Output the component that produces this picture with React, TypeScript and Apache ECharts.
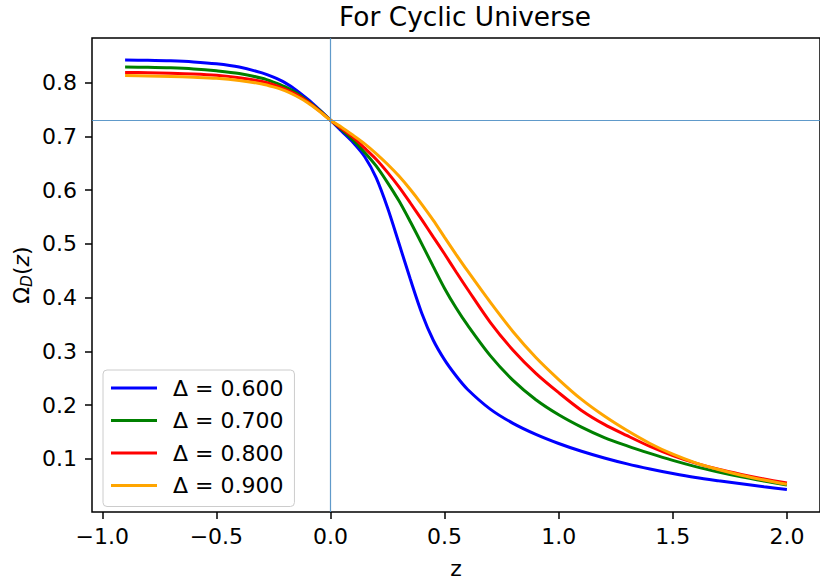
import React, { useEffect, useRef } from "react";
import * as echarts from "echarts";

const zValues = [-0.9, -0.8, -0.7, -0.6, -0.5, -0.4, -0.3, -0.25, -0.2, -0.15, -0.1, -0.05, 0, 0.05, 0.1, 0.15, 0.2, 0.25, 0.3, 0.35, 0.4, 0.45, 0.5, 0.55, 0.6, 0.7, 0.8, 0.9, 1.0, 1.1, 1.2, 1.3, 1.4, 1.5, 1.6, 1.7, 1.8, 1.9, 2.0];

const omegaD06 = [0.842, 0.8415, 0.8405, 0.8385, 0.835, 0.829, 0.818, 0.810, 0.800, 0.786, 0.769, 0.750, 0.730, 0.709, 0.688, 0.662, 0.623, 0.567, 0.501, 0.434, 0.371, 0.321, 0.284, 0.2545, 0.2295, 0.1925, 0.166, 0.1455, 0.1285, 0.114, 0.1015, 0.0905, 0.081, 0.0725, 0.065, 0.059, 0.0535, 0.048, 0.043];
const omegaD07 = [0.829, 0.8285, 0.8275, 0.8255, 0.822, 0.817, 0.808, 0.801, 0.7925, 0.781, 0.7655, 0.749, 0.730, 0.712, 0.6925, 0.670, 0.645, 0.614, 0.580, 0.541, 0.500, 0.458, 0.417, 0.381, 0.349, 0.292, 0.246, 0.210, 0.182, 0.159, 0.1395, 0.124, 0.110, 0.097, 0.0855, 0.0755, 0.0665, 0.0585, 0.051];
const omegaD08 = [0.819, 0.8185, 0.8175, 0.816, 0.8135, 0.809, 0.802, 0.796, 0.788, 0.778, 0.7645, 0.748, 0.730, 0.714, 0.6975, 0.678, 0.6575, 0.633, 0.606, 0.576, 0.545, 0.513, 0.481, 0.448, 0.416, 0.354, 0.302, 0.259, 0.223, 0.190, 0.164, 0.143, 0.123, 0.106, 0.092, 0.0805, 0.071, 0.0625, 0.055];
const omegaD09 = [0.813, 0.8125, 0.8115, 0.810, 0.808, 0.804, 0.7975, 0.792, 0.785, 0.775, 0.7625, 0.747, 0.730, 0.7165, 0.7015, 0.686, 0.668, 0.648, 0.626, 0.601, 0.5735, 0.544, 0.512, 0.4805, 0.450, 0.3915, 0.3365, 0.2885, 0.2475, 0.2105, 0.1795, 0.1525, 0.1285, 0.1085, 0.0925, 0.080, 0.0695, 0.0605, 0.0525];

const seriesNames = ["Δ = 0.600", "Δ = 0.700", "Δ = 0.800", "Δ = 0.900"];
const seriesColors = ["#0000ff", "#008000", "#ff0000", "#ffa500"];
const seriesValues = [omegaD06, omegaD07, omegaD08, omegaD09];

const xTicks = [-1.0, -0.5, 0.0, 0.5, 1.0, 1.5, 2.0];
const yTicks = [0.1, 0.2, 0.3, 0.4, 0.5, 0.6, 0.7, 0.8];

const refY = 0.73;
const refX = 0;

const FONT = "DejaVu Sans";

function fmt(v: number): string {
  const s = Math.abs(v).toFixed(1);
  return v < -1e-9 ? "\u2212" + s : s;
}

export default function App() {
  const ref = useRef<HTMLDivElement>(null);
  useEffect(() => {
    if (!ref.current) return;
    const chart = echarts.init(ref.current, null, { renderer: "svg" });
    const lineSeries = seriesValues.map((vals, i) => ({
      name: seriesNames[i],
      type: "line",
      data: zValues.map((z, j) => [z, vals[j]]),
      showSymbol: false,
      symbol: "none",
      smooth: 0.3,
      z: 3,
      lineStyle: { color: seriesColors[i], width: 3 },
      itemStyle: { color: seriesColors[i] },
    }));
    const option: any = {
      animation: false,
      backgroundColor: "#ffffff",
      title: {
        text: "For Cyclic Universe",
        left: 460,
        textAlign: "center",
        top: -2,
        textStyle: { fontFamily: FONT, fontSize: 26.4, fontWeight: "normal", color: "#000" },
      },
      grid: {
        left: 92,
        top: 38,
        width: 735,
        height: 478,
        show: true,
        borderColor: "#000",
        borderWidth: 1.5,
        backgroundColor: "transparent",
      },
      legend: {
        data: seriesNames.map((n) => ({ name: n, icon: "rect" })),
        orient: "vertical",
        left: 103,
        top: 370,
        padding: [7, 11, 10, 8],
        itemGap: 10.5,
        itemWidth: 46,
        itemHeight: 3,
        backgroundColor: "rgba(255,255,255,0.8)",
        borderColor: "#cccccc",
        borderWidth: 1,
        borderRadius: 4,
        textStyle: {
          fontFamily: FONT,
          fontSize: 22,
          color: "#000",
          lineHeight: 22,
          padding: [0, 0, 0, 11],
        },
      },
      xAxis: {
        type: "value",
        min: -1.045,
        max: 2.145,
        name: "z",
        nameLocation: "middle",
        nameGap: 45,
        nameMoveOverlap: false,
        nameTextStyle: { fontFamily: FONT, fontSize: 22, color: "#000" },
        axisLine: { show: false, onZero: false },
        splitLine: { show: false },
        axisTick: {
          show: true,
          customValues: xTicks,
          length: 7,
          lineStyle: { color: "#000", width: 1.5 },
        },
        axisLabel: {
          customValues: xTicks,
          formatter: (v: number) => fmt(v),
          margin: 13,
          fontFamily: FONT,
          fontSize: 22,
          color: "#000",
        },
      },
      yAxis: {
        type: "value",
        min: 0.001,
        max: 0.883,
        name: "{a|Ω}{s|D}{a|(}{i|z}{a|)}",
        nameLocation: "middle",
        nameGap: 58,
        nameMoveOverlap: false,
        nameTextStyle: {
          fontFamily: FONT,
          fontSize: 22,
          color: "#000",
          rich: {
            a: { fontFamily: FONT, fontSize: 22, color: "#000", lineHeight: 26 },
            i: { fontFamily: FONT, fontSize: 22, fontStyle: "italic", color: "#000", lineHeight: 26 },
            s: { fontFamily: FONT, fontSize: 15.4, fontStyle: "italic", color: "#000", lineHeight: 16, verticalAlign: "bottom" },
          },
        },
        axisLine: { show: false, onZero: false },
        splitLine: { show: false },
        axisTick: {
          show: true,
          customValues: yTicks,
          length: 7,
          lineStyle: { color: "#000", width: 1.5 },
        },
        axisLabel: {
          customValues: yTicks,
          formatter: (v: number) => fmt(v),
          margin: 15,
          fontFamily: FONT,
          fontSize: 22,
          color: "#000",
        },
      },
      series: [
        {
          name: "refLines",
          type: "line",
          data: [],
          z: 1,
          silent: true,
          markLine: {
            silent: true,
            symbol: "none",
            label: { show: false },
            lineStyle: { color: "#4f8fc4", width: 1.2, type: "solid", opacity: 0.9 },
            data: [{ yAxis: refY }, { xAxis: refX }],
          },
        },
        ...lineSeries,
      ],
    };
    chart.setOption(option);
    return () => chart.dispose();
  }, []);
  return (
    <div
      ref={ref}
      style={{ position: "fixed", left: 0, top: 0, width: 820, height: 584, background: "#fff" }}
    />
  );
}
